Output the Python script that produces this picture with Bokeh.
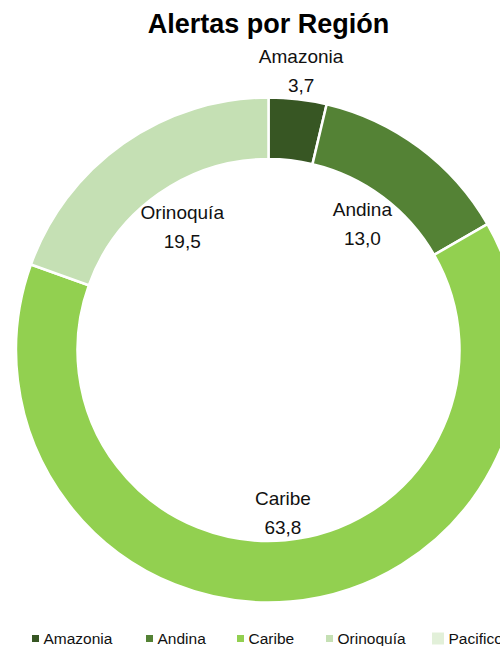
import math
from bokeh.plotting import figure
from bokeh.models import Range1d, ColumnDataSource
from bokeh.core.properties import value
from bokeh.embed import file_html
from bokeh.resources import INLINE

# Share of alerts by region (percent)
regions = ["Amazonia", "Andina", "Caribe", "Orinoquía", "Pacifico"]
shares = [3.7, 13.0, 63.8, 19.5, 0.0]
colors = ["#375623", "#548235", "#92D050", "#C5E0B4", "#E2F0D9"]
title_text = "Alertas por Región"

W, H = 500, 646
FONT = "Liberation Sans"

# canvas in pixel units, y measured up from the bottom
p = figure(width=W, height=H, output_backend="svg", toolbar_location=None,
           x_range=Range1d(0, W), y_range=Range1d(0, H),
           x_axis_type=None, y_axis_type=None, min_border=0)
p.grid.visible = False
p.outline_line_color = None
p.background_fill_color = "white"
p.border_fill_color = "white"

cx, cy = 268, H - 349.5
r_out, r_in = 252.5, 191

total = sum(shares)
starts, ends, mids = [], [], []
acc = 0.0
for s in shares:
    a0 = math.pi / 2 - 2 * math.pi * acc / total
    acc += s
    a1 = math.pi / 2 - 2 * math.pi * acc / total
    starts.append(a0)
    ends.append(a1)
    mids.append((a0 + a1) / 2)

keep = [i for i, s in enumerate(shares) if s > 0]
src = ColumnDataSource(dict(
    start=[starts[i] for i in keep],
    end=[ends[i] for i in keep],
    color=[colors[i] for i in keep],
))
p.annular_wedge(x=cx, y=cy, inner_radius=r_in, outer_radius=r_out,
                start_angle="start", end_angle="end", direction="clock",
                fill_color="color", line_color="white", line_width=2.5,
                source=src)

# data labels: name above value, placed along each slice's mid-angle
label_radius = [281, 157, 164, 150, 0]
names, vals, lx, ly = [], [], [], []
for i in keep:
    r = label_radius[i]
    names.append(regions[i])
    vals.append(f"{shares[i]:.1f}".replace(".", ","))
    lx.append(cx + r * math.cos(mids[i]))
    ly.append(cy + r * math.sin(mids[i]))

p.text(x=lx, y=[y + 14.5 for y in ly], text=names,
       text_font=value(FONT), text_font_size="19px", text_color="#111111",
       text_align="center", text_baseline="middle")
p.text(x=lx, y=[y - 14.5 for y in ly], text=vals,
       text_font=value(FONT), text_font_size="19px", text_color="#111111",
       text_align="center", text_baseline="middle")

# title
p.text(x=[cx], y=[H - 23], text=[title_text], text_font=value(FONT),
       text_font_size="27px", text_font_style="bold", text_color="black",
       text_align="center", text_baseline="middle")

# legend row along the bottom
leg_text_x = [43, 157, 248, 337, 448]
leg_size = [7, 7, 7, 7, 12]
leg_y = H - 638
p.rect(x=[tx - 8 - (sz - 7) / 2 for tx, sz in zip(leg_text_x, leg_size)],
       y=[leg_y] * len(regions), width=leg_size, height=leg_size,
       width_units="screen", height_units="screen",
       fill_color=colors, line_color=None)
p.text(x=leg_text_x, y=[leg_y] * len(regions), text=regions,
       text_font=value(FONT), text_font_size="15.5px", text_color="#111111",
       text_align="left", text_baseline="middle")

open("out.html", "w").write(file_html(p, INLINE))
